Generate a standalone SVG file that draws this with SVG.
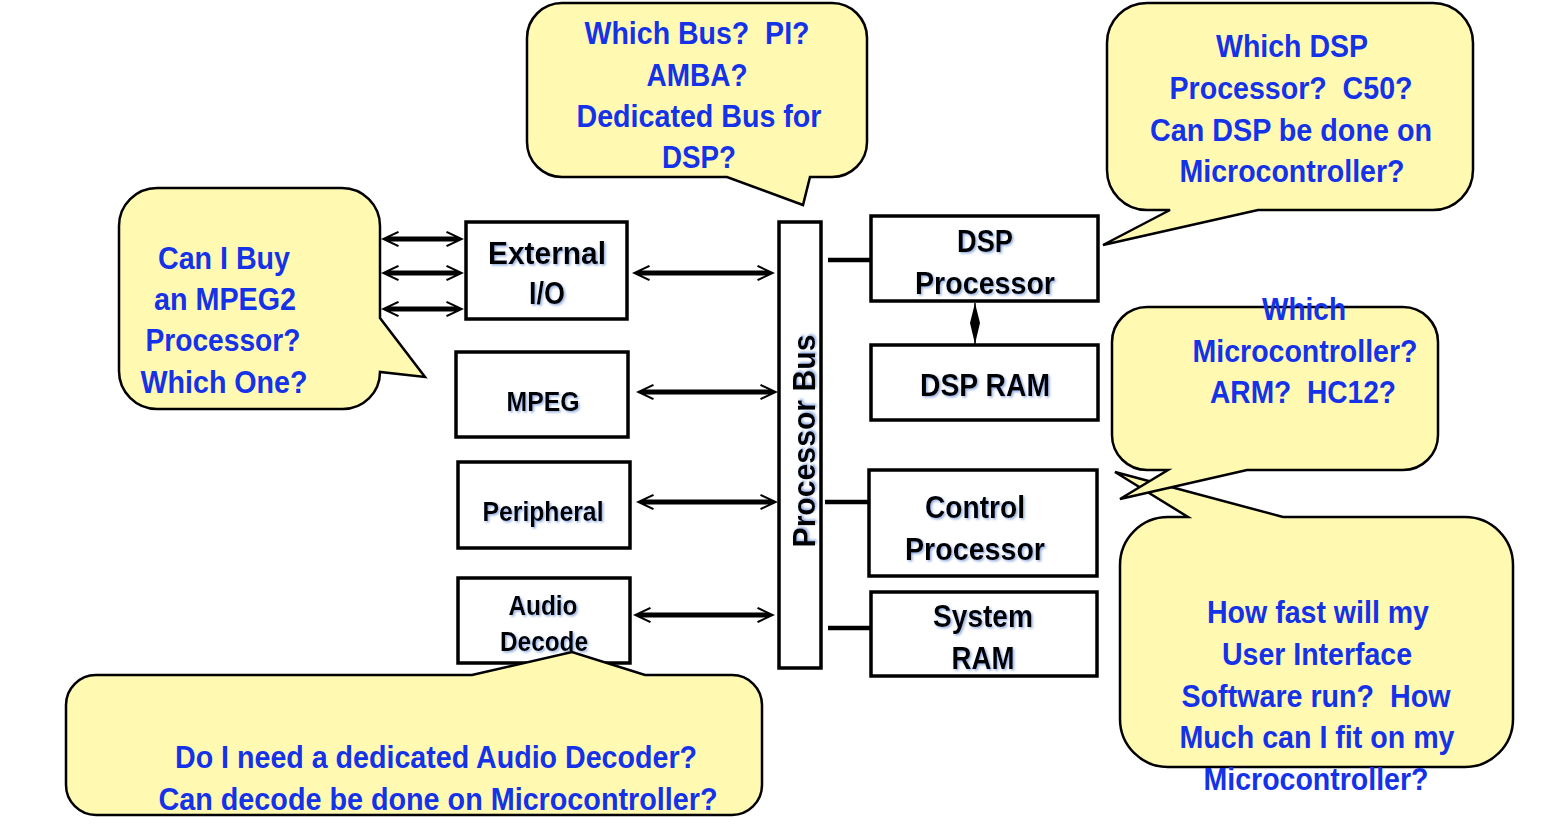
<svg xmlns="http://www.w3.org/2000/svg" width="1552" height="836" viewBox="0 0 1552 836" xml:space="preserve">
<style>
.bubble{fill:#fff9b1;stroke:#000;stroke-width:2.5;stroke-linejoin:miter}
.q{font-family:"Liberation Sans Narrow","Liberation Sans",Arial,sans-serif;font-weight:bold;font-size:31px;fill:#1432e8;text-anchor:middle;white-space:pre}
.box{fill:#fff;stroke:#000;stroke-width:3.5}
.lbl{font-family:"Liberation Sans Narrow","Liberation Sans",Arial,sans-serif;font-weight:bold;font-size:31px;fill:#000;text-anchor:middle;filter:url(#sh)}
.sm{font-size:28px}
.arr{stroke:#000;stroke-width:5;fill:none;marker-start:url(#ah);marker-end:url(#ah)}
.ln{stroke:#000;stroke-width:4.5;fill:none}
</style>
<defs>
<filter id="sh" x="-10%" y="-20%" width="120%" height="140%">
<feDropShadow dx="1.5" dy="1.5" stdDeviation="1" flood-color="#5078c8" flood-opacity="0.6"/>
</filter>
<marker id="ah" viewBox="0 0 18 16" refX="10" refY="8" markerWidth="18" markerHeight="16" markerUnits="userSpaceOnUse" orient="auto-start-reverse">
<path d="M18,8 L1,0 L0,1.8 L8,5.5 L8,10.5 L0,14.2 L1,16 Z" fill="#000"/>
</marker>
</defs>
<rect width="1552" height="836" fill="#fff"/>

<g id="ext-io"><rect class="box" x="466" y="222" width="161" height="97"/>
<text class="lbl" x="547" y="264" textLength="118" lengthAdjust="spacingAndGlyphs">External</text>
<text class="lbl" x="547" y="304" textLength="36" lengthAdjust="spacingAndGlyphs">I/O</text></g>
<g id="mpeg"><rect class="box" x="456" y="352" width="172" height="85"/>
<text class="lbl sm" x="543" y="411" textLength="73" lengthAdjust="spacingAndGlyphs">MPEG</text></g>
<g id="peripheral"><rect class="box" x="458" y="462" width="172" height="86"/>
<text class="lbl sm" x="543" y="521" textLength="121" lengthAdjust="spacingAndGlyphs">Peripheral</text></g>
<g id="audio"><rect class="box" x="458" y="578" width="172" height="85"/>
<text class="lbl sm" x="543" y="615" textLength="69" lengthAdjust="spacingAndGlyphs">Audio</text>
<text class="lbl sm" x="544" y="651" textLength="88" lengthAdjust="spacingAndGlyphs">Decode</text></g>
<g id="bus"><rect class="box" x="779" y="222" width="42" height="446"/>
<text class="lbl" transform="translate(815,441) rotate(-90)" textLength="213" lengthAdjust="spacingAndGlyphs">Processor Bus</text></g>
<g id="dsp"><rect class="box" x="871" y="216" width="227" height="85"/>
<text class="lbl" x="985" y="252" textLength="56" lengthAdjust="spacingAndGlyphs">DSP</text>
<text class="lbl" x="985" y="294" textLength="140" lengthAdjust="spacingAndGlyphs">Processor</text></g>
<g id="dspram"><rect class="box" x="871" y="345" width="227" height="75"/>
<text class="lbl" x="985" y="396" textLength="130" lengthAdjust="spacingAndGlyphs">DSP RAM</text></g>
<g id="ctrl"><rect class="box" x="869" y="470" width="228" height="106"/>
<text class="lbl" x="975" y="518" textLength="100" lengthAdjust="spacingAndGlyphs">Control</text>
<text class="lbl" x="975" y="560" textLength="140" lengthAdjust="spacingAndGlyphs">Processor</text></g>
<g id="sysram"><rect class="box" x="871" y="592" width="226" height="84"/>
<text class="lbl" x="983" y="627" textLength="100" lengthAdjust="spacingAndGlyphs">System</text>
<text class="lbl" x="983" y="669" textLength="63" lengthAdjust="spacingAndGlyphs">RAM</text></g>

<g id="connectors">
<line class="arr" x1="389" y1="239" x2="456" y2="239"/>
<line class="arr" x1="389" y1="273" x2="456" y2="273"/>
<line class="arr" x1="389" y1="309" x2="456" y2="309"/>
<line class="arr" x1="640" y1="273" x2="767" y2="273"/>
<line class="arr" x1="644" y1="392" x2="770" y2="392"/>
<line class="arr" x1="644" y1="502" x2="770" y2="502"/>
<line class="arr" x1="641" y1="615" x2="767" y2="615"/>
<line class="ln" x1="828" y1="260" x2="871" y2="260"/>
<line class="ln" x1="825" y1="502" x2="869" y2="502"/>
<line class="ln" x1="828" y1="628" x2="871" y2="628"/>
<line stroke="#000" stroke-width="1.5" x1="975" y1="303" x2="975" y2="345"/>
<polygon points="975,303 980,323 975,344 970,323" fill="#000"/>
</g>

<g id="callout-mpeg2">
<path class="bubble" d="M157,188 H342 A38,38 0 0 1 380,226 V318 L425,377 L380,372 A37,37 0 0 1 343,409 H157 A38,38 0 0 1 119,371 V226 A38,38 0 0 1 157,188 Z"/>
<text class="q" x="224" y="269" textLength="132" lengthAdjust="spacingAndGlyphs">Can I Buy</text>
<text class="q" x="225" y="310" textLength="142" lengthAdjust="spacingAndGlyphs">an MPEG2</text>
<text class="q" x="223" y="351" textLength="155" lengthAdjust="spacingAndGlyphs">Processor?</text>
<text class="q" x="224" y="393" textLength="167" lengthAdjust="spacingAndGlyphs">Which One?</text>
</g>
<g id="callout-bus">
<path class="bubble" d="M562,3 H832 A35,35 0 0 1 867,38 V142 A35,35 0 0 1 832,177 H810 L803,205 L727,177 H562 A35,35 0 0 1 527,142 V38 A35,35 0 0 1 562,3 Z"/>
<text class="q" x="697" y="44" textLength="225" lengthAdjust="spacingAndGlyphs">Which Bus?  PI?</text>
<text class="q" x="697" y="86" textLength="101" lengthAdjust="spacingAndGlyphs">AMBA?</text>
<text class="q" x="699" y="127" textLength="245" lengthAdjust="spacingAndGlyphs">Dedicated Bus for</text>
<text class="q" x="699" y="168" textLength="74" lengthAdjust="spacingAndGlyphs">DSP?</text>
</g>
<g id="callout-dsp">
<path class="bubble" d="M1147,3 H1433 A40,40 0 0 1 1473,43 V170 A40,40 0 0 1 1433,210 H1258 L1103,245 L1170,210 H1147 A40,40 0 0 1 1107,170 V43 A40,40 0 0 1 1147,3 Z"/>
<text class="q" x="1292" y="57" textLength="152" lengthAdjust="spacingAndGlyphs">Which DSP</text>
<text class="q" x="1291" y="99" textLength="243" lengthAdjust="spacingAndGlyphs">Processor?  C50?</text>
<text class="q" x="1291" y="141" textLength="282" lengthAdjust="spacingAndGlyphs">Can DSP be done on</text>
<text class="q" x="1292" y="182" textLength="225" lengthAdjust="spacingAndGlyphs">Microcontroller?</text>
</g>
<g id="callout-ui">
<path class="bubble" d="M1168,517 H1188 L1115,472 L1283,517 H1465 A48,48 0 0 1 1513,565 V719 A48,48 0 0 1 1465,767 H1168 A48,48 0 0 1 1120,719 V565 A48,48 0 0 1 1168,517 Z"/>
<text class="q" x="1318" y="623" textLength="222" lengthAdjust="spacingAndGlyphs">How fast will my</text>
<text class="q" x="1317" y="665" textLength="190" lengthAdjust="spacingAndGlyphs">User Interface</text>
<text class="q" x="1316" y="707" textLength="269" lengthAdjust="spacingAndGlyphs">Software run?  How</text>
<text class="q" x="1317" y="748" textLength="275" lengthAdjust="spacingAndGlyphs">Much can I fit on my</text>
<text class="q" x="1316" y="790" textLength="225" lengthAdjust="spacingAndGlyphs">Microcontroller?</text>
</g>
<g id="callout-micro">
<path class="bubble" d="M1147,307 H1403 A35,35 0 0 1 1438,342 V435 A35,35 0 0 1 1403,470 H1247 L1120,499 L1168,470 H1147 A35,35 0 0 1 1112,435 V342 A35,35 0 0 1 1147,307 Z"/>
<text class="q" x="1304" y="320" textLength="84" lengthAdjust="spacingAndGlyphs">Which</text>
<text class="q" x="1305" y="362" textLength="225" lengthAdjust="spacingAndGlyphs">Microcontroller?</text>
<text class="q" x="1303" y="403" textLength="186" lengthAdjust="spacingAndGlyphs">ARM?  HC12?</text>
</g>
<g id="callout-audio">
<path class="bubble" d="M96,675 H472 L572,652 L645,675 H732 A30,30 0 0 1 762,705 V785 A30,30 0 0 1 732,815 H96 A30,30 0 0 1 66,785 V705 A30,30 0 0 1 96,675 Z"/>
<text class="q" x="436" y="768" textLength="522" lengthAdjust="spacingAndGlyphs">Do I need a dedicated Audio Decoder?</text>
<text class="q" x="438" y="810" textLength="559" lengthAdjust="spacingAndGlyphs">Can decode be done on Microcontroller?</text>
</g>
</svg>
